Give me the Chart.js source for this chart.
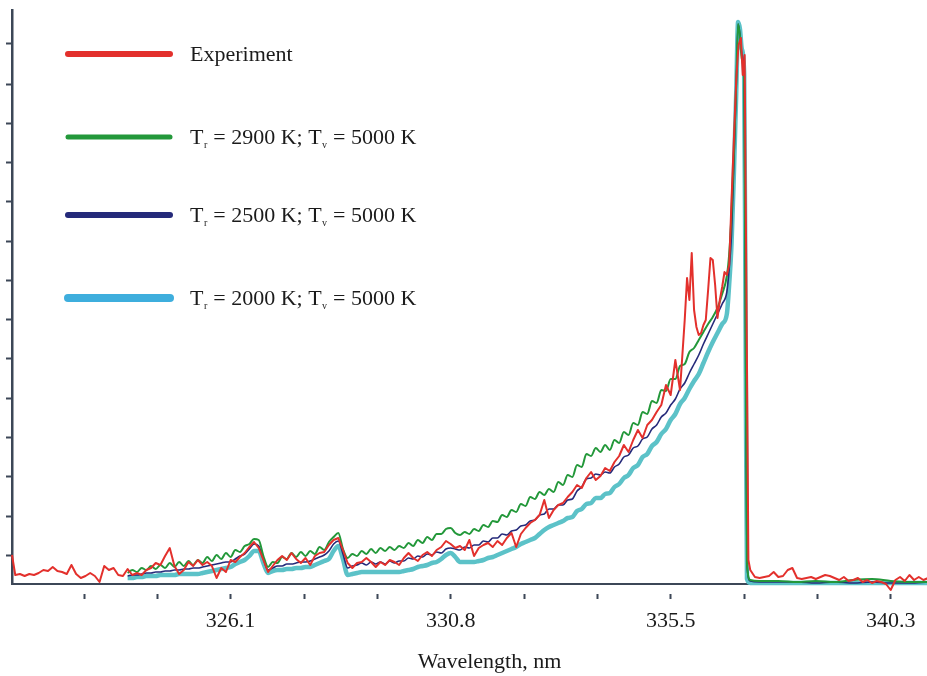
<!DOCTYPE html>
<html lang="en">
<head>
    <meta charset="UTF-8">
    <title>Spectrum</title>
    <script src="https://cdn.jsdelivr.net/npm/chart.js"></script>
    <style>
        body { margin: 0; background: #fff; }
        #wrap { width: 927px; height: 676px; overflow: hidden; }
    </style>
</head>
<body>
<div id="wrap"><canvas id="myChart" width="967" height="676"></canvas></div>
<script>
// wavelength grids (nm)
const wlModel = [
    323.9, 324.0, 324.1, 324.2, 324.3, 324.4, 324.5, 324.6, 324.7, 324.8,
    324.9, 325.0, 325.1, 325.2, 325.3, 325.4, 325.5, 325.6, 325.7, 325.8,
    325.9, 326.0, 326.1, 326.2, 326.3, 326.4, 326.5, 326.6, 326.7, 326.8,
    326.9, 327.0, 327.1, 327.2, 327.3, 327.4, 327.5, 327.6, 327.7, 327.8,
    327.9, 328.0, 328.1, 328.2, 328.3, 328.4, 328.5, 328.6, 328.7, 328.8,
    328.9, 329.0, 329.1, 329.2, 329.3, 329.4, 329.5, 329.6, 329.7, 329.8,
    329.9, 330.0, 330.1, 330.2, 330.3, 330.4, 330.5, 330.6, 330.7, 330.8,
    330.9, 331.0, 331.1, 331.2, 331.3, 331.4, 331.5, 331.6, 331.7, 331.8,
    331.9, 332.0, 332.1, 332.2, 332.3, 332.4, 332.5, 332.6, 332.7, 332.8,
    332.9, 333.0, 333.1, 333.2, 333.3, 333.4, 333.5, 333.6, 333.7, 333.8,
    333.9, 334.0, 334.1, 334.2, 334.3, 334.4, 334.5, 334.6, 334.7, 334.8,
    334.9, 335.0, 335.1, 335.2, 335.3, 335.4, 335.5, 335.6, 335.7, 335.8,
    335.9, 336.0, 336.1, 336.2, 336.3, 336.4, 336.5, 336.6, 336.7,
    336.75, 336.8, 336.85, 336.9, 336.94, 336.98, 337.02, 337.07, 337.1, 337.13,
    337.2, 337.4, 337.8, 338.2, 338.6, 339.0, 339.4, 339.8, 340.2, 340.6, 341.0
];

// intensities, arbitrary units
const t2900 = [
    11, 14, 12, 16, 14, 18, 15, 19, 16, 21,
    17, 22, 18, 23, 19, 24, 21, 27, 23, 29,
    25, 31, 27, 34, 32, 38, 40, 45, 44, 28,
    17, 22, 21, 27, 25, 31, 27, 32, 28, 33,
    30, 37, 34, 42, 47, 51, 35, 26, 30, 28,
    33, 30, 35, 31, 36, 33, 37, 34, 38, 36,
    41, 38, 44, 41, 47, 44, 50, 50, 55, 56,
    51, 49, 52, 50, 55, 53, 59, 57, 63, 62,
    69, 67, 74, 72, 80, 78, 87, 85, 92, 89,
    95, 92, 102, 99, 109, 107, 119, 117, 130, 128,
    136, 132, 139, 134, 144, 141, 152, 149, 161, 159,
    172, 170, 183, 181, 194, 193, 205, 205, 218, 220,
    232, 236, 244, 252, 260, 267, 276, 290, 308,
    330, 370, 430, 500, 560, 548, 525, 500, 250, 20,
    4, 3, 3, 2, 3, 2, 4, 5, 3, 2, 2
];
const t2500 = [
    8, 9, 9, 10, 11, 11, 12, 12, 13, 13,
    14, 14, 15, 15, 16, 16, 17, 18, 19, 20,
    21, 22, 22, 25, 28, 30, 35, 40, 38, 25,
    14, 16, 18, 18, 20, 20, 21, 22, 22, 23,
    25, 27, 29, 33, 40, 43, 30, 16, 18, 19,
    21, 19, 22, 20, 22, 20, 23, 21, 23, 23,
    26, 25, 28, 27, 30, 29, 32, 31, 35, 36,
    35, 34, 37, 36, 39, 39, 43, 42, 46, 46,
    50, 49, 53, 54, 58, 59, 63, 64, 69, 70,
    75, 75, 79, 79, 84, 85, 93, 97, 105, 106,
    110, 109, 112, 111, 117, 120, 127, 129, 136, 138,
    145, 147, 155, 159, 167, 171, 179, 185, 195, 201,
    211, 220, 229, 240, 250, 260, 270, 280, 292,
    315, 350, 420, 495, 560, 550, 530, 505, 250, 20,
    3, 2, 2, 2, 1, 2, 1, 2, 1, 1, 2
];
const t2000 = [
    6, 6, 7, 7, 8, 8, 8, 9, 9, 9,
    9, 10, 10, 10, 10, 10, 11, 12, 13, 14,
    15, 16, 17, 20, 22, 24, 28, 33, 33, 21,
    11, 13, 14, 14, 15, 15, 16, 16, 17, 17,
    19, 21, 23, 25, 33, 38, 25, 9, 10, 11,
    12, 12, 12, 12, 12, 12, 12, 12, 12, 13,
    14, 15, 17, 18, 19, 21, 22, 25, 29, 31,
    27, 22, 22, 22, 22, 23, 24, 26, 27, 29,
    31, 33, 35, 37, 40, 42, 44, 46, 50, 54,
    57, 59, 61, 63, 66, 67, 73, 75, 80, 81,
    86, 86, 90, 91, 97, 100, 106, 109, 116, 119,
    127, 130, 138, 142, 150, 155, 164, 170, 180, 186,
    195, 203, 210, 221, 232, 242, 251, 260, 270,
    300, 340, 410, 490, 562, 555, 535, 510, 260, 5,
    1, 1, 1, 1, 1, 1, 1, 1, 1, 1, 1
];

const wlExp = [
    321.43, 321.5, 321.6, 321.7, 321.8, 321.9,
    322.0, 322.1, 322.2, 322.3, 322.4, 322.5, 322.6, 322.7, 322.8, 322.9,
    323.0, 323.1, 323.2, 323.3, 323.4, 323.5, 323.6, 323.7, 323.8, 323.9,
    324.0, 324.1, 324.2, 324.3, 324.4, 324.5, 324.6, 324.7, 324.8, 324.9,
    325.0, 325.1, 325.2, 325.3, 325.4, 325.5, 325.6, 325.7, 325.8, 325.9,
    326.0, 326.1, 326.2, 326.3, 326.4, 326.5, 326.6, 326.7, 326.8, 326.9,
    327.0, 327.1, 327.2, 327.3, 327.4, 327.5, 327.6, 327.7, 327.8, 327.9,
    328.0, 328.1, 328.2, 328.3, 328.4, 328.5, 328.6, 328.7, 328.8, 328.9,
    329.0, 329.1, 329.2, 329.3, 329.4, 329.5, 329.6, 329.7, 329.8, 329.9,
    330.0, 330.1, 330.2, 330.3, 330.4, 330.5, 330.6, 330.7, 330.8, 330.9,
    331.0, 331.1, 331.2, 331.3, 331.4, 331.5, 331.6, 331.7, 331.8, 331.9,
    332.0, 332.1, 332.2, 332.3, 332.4, 332.5, 332.6, 332.7, 332.8, 332.9,
    333.0, 333.1, 333.2, 333.3, 333.4, 333.5, 333.6, 333.7, 333.8, 333.9,
    334.0, 334.1, 334.2, 334.3, 334.4, 334.5, 334.6, 334.7, 334.8, 334.9,
    335.0, 335.1, 335.2, 335.3, 335.4, 335.5, 335.6, 335.7, 335.8, 335.85, 335.9, 335.95,
    336.0, 336.05, 336.1, 336.15, 336.2, 336.25, 336.3, 336.35, 336.4, 336.45,
    336.5, 336.55, 336.6, 336.65, 336.7, 336.75, 336.8, 336.85, 336.9, 336.95,
    337.0, 337.04, 337.08, 337.12, 337.16, 337.2,
    337.3, 337.4, 337.5, 337.6, 337.7, 337.8, 337.9,
    338.0, 338.1, 338.2, 338.3, 338.4, 338.5, 338.6, 338.7, 338.8, 338.9,
    339.0, 339.1, 339.2, 339.3, 339.4, 339.5, 339.6, 339.7, 339.8, 339.9,
    340.0, 340.1, 340.2, 340.3, 340.4, 340.5, 340.6, 340.7, 340.8, 340.9,
    341.0
];
const experiment = [
    29, 9, 10, 8, 10, 9,
    11, 14, 13, 17, 13, 12, 10, 19, 10, 6,
    8, 11, 8, 2, 18, 14, 16, 9, 8, 15,
    9, 11, 9, 14, 16, 21, 19, 28, 36, 18,
    10, 14, 22, 18, 24, 19, 22, 18, 6, 16,
    12, 24, 22, 27, 31, 37, 42, 36, 24, 12,
    18, 24, 28, 24, 31, 25, 21, 26, 19, 28,
    31, 32, 39, 44, 46, 34, 21, 16, 21, 22,
    26, 22, 17, 22, 19, 24, 22, 19, 26, 31,
    26, 23, 29, 32, 28, 34, 37, 43, 40, 36,
    38, 34, 44, 28, 36, 39, 41, 37, 43, 39,
    46, 51, 37, 50, 56, 61, 64, 69, 84, 66,
    74, 79, 81, 87, 92, 99, 96, 106, 112, 104,
    108, 116, 113, 122, 128, 139, 132, 144, 154, 146,
    159, 164, 172, 179, 199, 189, 224, 194, 264, 306, 284, 331,
    274, 257, 249, 251, 259, 264, 294, 326, 324, 299,
    266, 284, 297, 312, 309, 319, 384, 444, 504, 539,
    546, 509, 529, 284, 24, 14,
    7, 6, 7, 8, 12, 7, 8,
    14, 16, 6, 5, 6, 7, 5, 7, 9, 8,
    6, 4, 7, 3, 4, 6, 2, 4, 1, 3,
    2, 0, -6, 4, 7, 3, 9, 4, 7, 4,
    6
];

const seriesNames = ['Experiment', 'Tᵣ = 2900 K; Tᵥ = 5000 K', 'Tᵣ = 2500 K; Tᵥ = 5000 K', 'Tᵣ = 2000 K; Tᵥ = 5000 K'];

// axis ticks
const xTicks = [322.97, 324.53, 326.1, 327.67, 329.23, 330.8, 332.37, 333.93, 335.5, 337.07, 338.63, 340.2];
const xTickLabels = ['', '', '326.1', '', '', '330.8', '', '', '335.5', '', '', '340.3'];
const yTicks = [29, 68, 108, 147, 186, 226, 265, 304, 343, 383, 422, 461, 500, 540];

const serif = "'Liberation Serif', 'Times New Roman', serif";
const axisColor = '#3c4757';
const textColor = '#1b1b1b';

function toPoints(xs, ys) {
    return xs.map((x, i) => ({ x: x, y: ys[i] }));
}

// legend drawn inside the plot, with real subscripts
const SUBS = { 'ᵣ': 'r', 'ᵥ': 'v' };
const legendRows = [54, 137, 215, 298];
const legendPlugin = {
    id: 'subLegend',
    afterDraw(chart) {
        const ctx = chart.ctx;
        ctx.save();
        chart.data.datasets.forEach((ds, i) => {
            const y = legendRows[i];
            ctx.strokeStyle = ds.legendColor || ds.borderColor;
            ctx.lineWidth = ds.legendWidth;
            ctx.lineCap = 'round';
            ctx.beginPath();
            ctx.moveTo(68, y);
            ctx.lineTo(170, y);
            ctx.stroke();

            ctx.fillStyle = textColor;
            ctx.textBaseline = 'alphabetic';
            ctx.textAlign = 'left';
            let x = 190;
            let run = '';
            const flush = () => {
                if (!run) return;
                ctx.font = '22px ' + serif;
                ctx.fillText(run, x, y + 7);
                x += ctx.measureText(run).width;
                run = '';
            };
            for (const ch of ds.label) {
                if (SUBS[ch]) {
                    flush();
                    ctx.font = '10px ' + serif;
                    ctx.fillText(SUBS[ch], x + 0.5, y + 11);
                    x += ctx.measureText(SUBS[ch]).width + 1;
                } else {
                    run += ch;
                }
            }
            flush();
        });
        ctx.restore();
    }
};

const ctx = document.getElementById('myChart').getContext('2d');
new Chart(ctx, {
    type: 'line',
    data: {
        datasets: [
            { label: seriesNames[0], data: toPoints(wlExp, experiment), borderColor: '#e3302c', borderWidth: 2, legendWidth: 6 },
            { label: seriesNames[1], data: toPoints(wlModel, t2900), borderColor: '#23983a', borderWidth: 2, legendWidth: 5, cubicInterpolationMode: 'monotone' },
            { label: seriesNames[2], data: toPoints(wlModel, t2500), borderColor: '#252a7a', borderWidth: 1.6, legendWidth: 6, cubicInterpolationMode: 'monotone' },
            { label: seriesNames[3], data: toPoints(wlModel, t2000), borderColor: '#5cc2c8', borderWidth: 4.5, legendColor: '#3eaedd', legendWidth: 8, cubicInterpolationMode: 'monotone' }
        ]
    },
    options: {
        responsive: false,
        animation: false,
        layout: { padding: { left: 0, top: 10, right: 0, bottom: 0 } },
        elements: {
            point: { radius: 0 },
            line: { tension: 0, borderJoinStyle: 'round', fill: false }
        },
        datasets: { line: { clip: false } },
        plugins: { legend: { display: false }, tooltip: { enabled: false } },
        scales: {
            x: {
                type: 'linear',
                min: 321.43,
                max: 341.83,
                afterBuildTicks: s => { s.ticks = xTicks.map(v => ({ value: v })); },
                afterFit: s => { s.height = 92; },
                border: { color: axisColor, width: 2 },
                grid: { drawOnChartArea: false, tickLength: 15, tickColor: axisColor, tickWidth: 2, tickBorderDash: [0, 9, 5, 30] },
                ticks: {
                    autoSkip: false, maxRotation: 0, padding: 9, color: textColor,
                    font: { family: serif, size: 22 },
                    callback: (v, i) => xTickLabels[i]
                },
                title: {
                    display: true, text: 'Wavelength, nm', color: textColor,
                    font: { family: serif, size: 22 }, padding: { top: 0, bottom: 1 }
                }
            },
            y: {
                min: 0,
                max: 574,
                afterBuildTicks: s => { s.ticks = yTicks.map(v => ({ value: v })); },
                afterFit: s => { s.width = 12; },
                border: { color: axisColor, width: 2.5 },
                grid: { drawOnChartArea: false, tickLength: 6, tickColor: axisColor, tickWidth: 2 },
                ticks: { display: false }
            }
        }
    },
    plugins: [legendPlugin]
});
</script>
</body>
</html>
